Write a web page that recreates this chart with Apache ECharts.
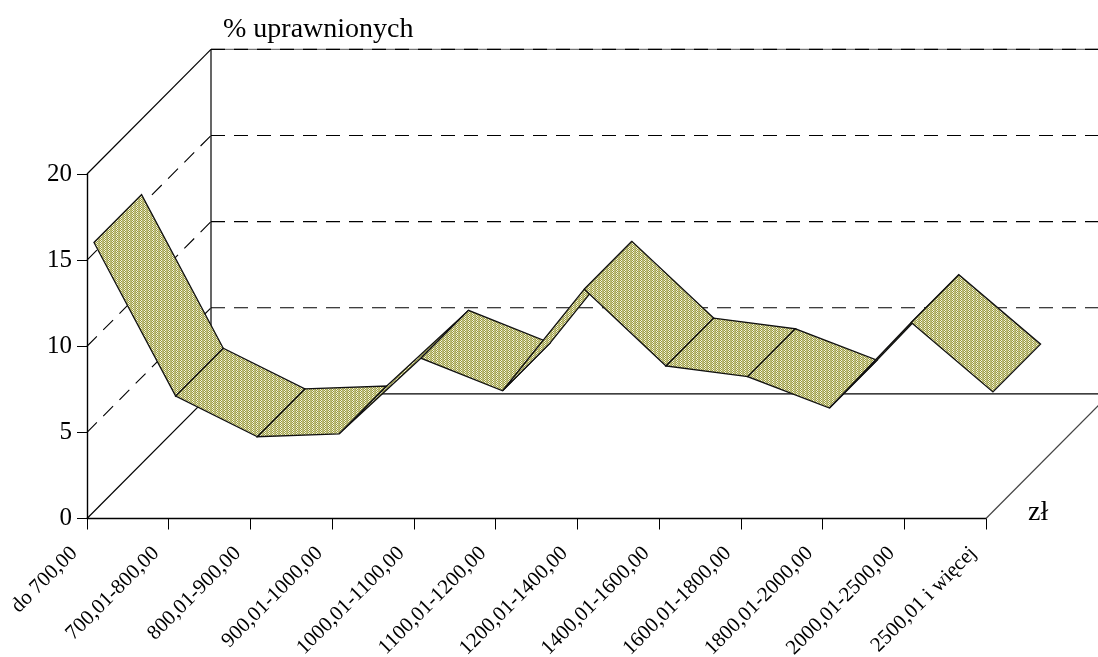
<!DOCTYPE html>
<html lang="pl">
<head>
    <meta charset="UTF-8">
    <title>% uprawnionych</title>
    <script src="https://cdn.jsdelivr.net/npm/echarts@6/dist/echarts.min.js"></script>
    <style>
    html,
    body {
        padding: 0;
        margin: 0;
        border: none;
        width: 100%;
        height: 100%;
        background: #fff;
    }
    #chart {
        width: 1098px;
        height: 657px;
    }
    </style>
</head>
<body>
    <div id="chart"></div>
    <script type="text/javascript">
        var categories = ['do 700,00', '700,01-800,00', '800,01-900,00', '900,01-1000,00', '1000,01-1100,00', '1100,01-1200,00',
            '1200,01-1400,00', '1400,01-1600,00', '1600,01-1800,00', '1800,01-2000,00', '2000,01-2500,00', '2500,01 i więcej'];
        var values = [15.62, 6.70, 4.34, 4.51, 8.90, 7.01, 12.91, 8.45, 7.83, 6.01, 10.97, 6.94];
        var yTicks = [0, 5, 10, 15, 20];

        var FONT = '"Liberation Serif", serif';
        // 3D look: how far the back wall is shifted from the front plane, in px
        var DEPTH_X = 124, DEPTH_Y = 124.6;
        var NEAR = 0.056, FAR = 0.44;

        // fine hatch of the ribbon
        function makeTile() {
            var c = document.createElement('canvas');
            c.width = 4; c.height = 2;
            var ctx = c.getContext('2d');
            var cols = [['#9a9a3a', '#f4f4e4'], ['#f4f4e4', '#9a9a3a'], ['#b0b068', '#c4c480'], ['#c4c480', '#a0a058']];
            for (var x = 0; x < 4; x++) {
                for (var y = 0; y < 2; y++) {
                    ctx.fillStyle = cols[x][y];
                    ctx.fillRect(x, y, 1, 1);
                }
            }
            return c;
        }
        var hatch = { image: makeTile(), repeat: 'repeat' };

        function shift(p, z) {
            return [p[0] + DEPTH_X * z, p[1] - DEPTH_Y * z];
        }

        // walls and floor, one item per y tick
        function renderWall(params, api) {
            var v = api.value(0);
            var a = api.coord([0, v]);
            var b = shift(a, 1);
            var c = [1098, b[1]];
            var solid = { stroke: '#000', lineWidth: 1.2, fill: null };
            var dashed = { stroke: '#000', lineWidth: 1.1, fill: null, lineDash: [14, 9] };
            var kids = [];
            var diagStyle = (v === 0 || v === 20) ? solid : dashed;
            kids.push({ type: 'line', shape: { x1: a[0], y1: a[1], x2: b[0], y2: b[1] }, style: diagStyle });
            if (v === 0) {
                kids.push({ type: 'line', shape: { x1: b[0], y1: b[1], x2: c[0], y2: c[1] }, style: solid });
                // right edge of the floor
                var r = api.coord([categories.length - 1, 0]);
                var r2 = shift(r, 1);
                kids.push({ type: 'line', shape: { x1: r[0], y1: r[1], x2: r2[0], y2: r2[1] }, style: { stroke: '#444', lineWidth: 1.2, fill: null } });
            } else {
                if (v === 20) {
                    kids.push({ type: 'line', shape: { x1: b[0], y1: b[1], x2: c[0], y2: c[1] }, style: { stroke: '#777', lineWidth: 1.2, fill: null } });
                    // back vertical edge
                    var low = shift(api.coord([0, 0]), 1);
                    kids.push({ type: 'line', shape: { x1: b[0], y1: b[1], x2: low[0], y2: low[1] }, style: solid });
                }
                kids.push({ type: 'line', shape: { x1: b[0], y1: b[1], x2: c[0], y2: c[1] }, style: dashed });
            }
            return { type: 'group', children: kids };
        }

        function renderRibbon(params, api) {
            var i = params.dataIndex;
            if (i >= values.length - 1) return null;
            var p0 = api.coord([i, values[i]]);
            var p1 = api.coord([i + 1, values[i + 1]]);
            return {
                type: 'polygon',
                shape: { points: [shift(p0, NEAR), shift(p0, FAR), shift(p1, FAR), shift(p1, NEAR)] },
                style: { fill: hatch, stroke: '#111', lineWidth: 1.3 }
            };
        }

        var chart = echarts.init(document.getElementById('chart'), null, { renderer: 'canvas' });
        chart.setOption({
            animation: false,
            backgroundColor: '#fff',
            title: {
                text: '% uprawnionych',
                left: 223,
                top: 16,
                padding: 0,
                textStyle: { fontFamily: FONT, fontSize: 28, fontWeight: 'normal', color: '#000' }
            },
            graphic: [{
                type: 'text',
                left: 1028,
                top: 499,
                style: { text: 'zł', fontFamily: FONT, fontSize: 28, fill: '#000' }
            }],
            grid: { left: 87, right: 112, top: 174, bottom: 138.5, containLabel: false, outerBoundsMode: 'none' },
            xAxis: {
                type: 'category',
                data: categories,
                boundaryGap: false,
                axisLine: { lineStyle: { color: '#000', width: 1.4 } },
                axisTick: { show: true, alignWithLabel: true, length: 11, lineStyle: { color: '#000', width: 1 } },
                axisLabel: { interval: 0, rotate: 45, margin: 19, padding: [0, 18, 0, 0], fontFamily: FONT, fontSize: 21, color: '#000' },
                splitLine: { show: false }
            },
            yAxis: {
                type: 'value',
                min: 0,
                max: 20,
                interval: 5,
                axisLine: { show: true, lineStyle: { color: '#000', width: 1.4 } },
                axisTick: { show: true, length: 10, lineStyle: { color: '#000', width: 1 } },
                axisLabel: { margin: 15, fontFamily: FONT, fontSize: 25, color: '#000' },
                splitLine: { show: false }
            },
            series: [
                {
                    type: 'custom',
                    silent: true,
                    clip: false,
                    renderItem: renderWall,
                    encode: { y: 0 },
                    data: yTicks.map(function (v) { return [v]; })
                },
                {
                    type: 'custom',
                    silent: true,
                    clip: false,
                    renderItem: renderRibbon,
                    encode: { x: 0, y: 1 },
                    data: values.map(function (v, i) { return [i, v]; })
                }
            ]
        });
    </script>
</body>
</html>
